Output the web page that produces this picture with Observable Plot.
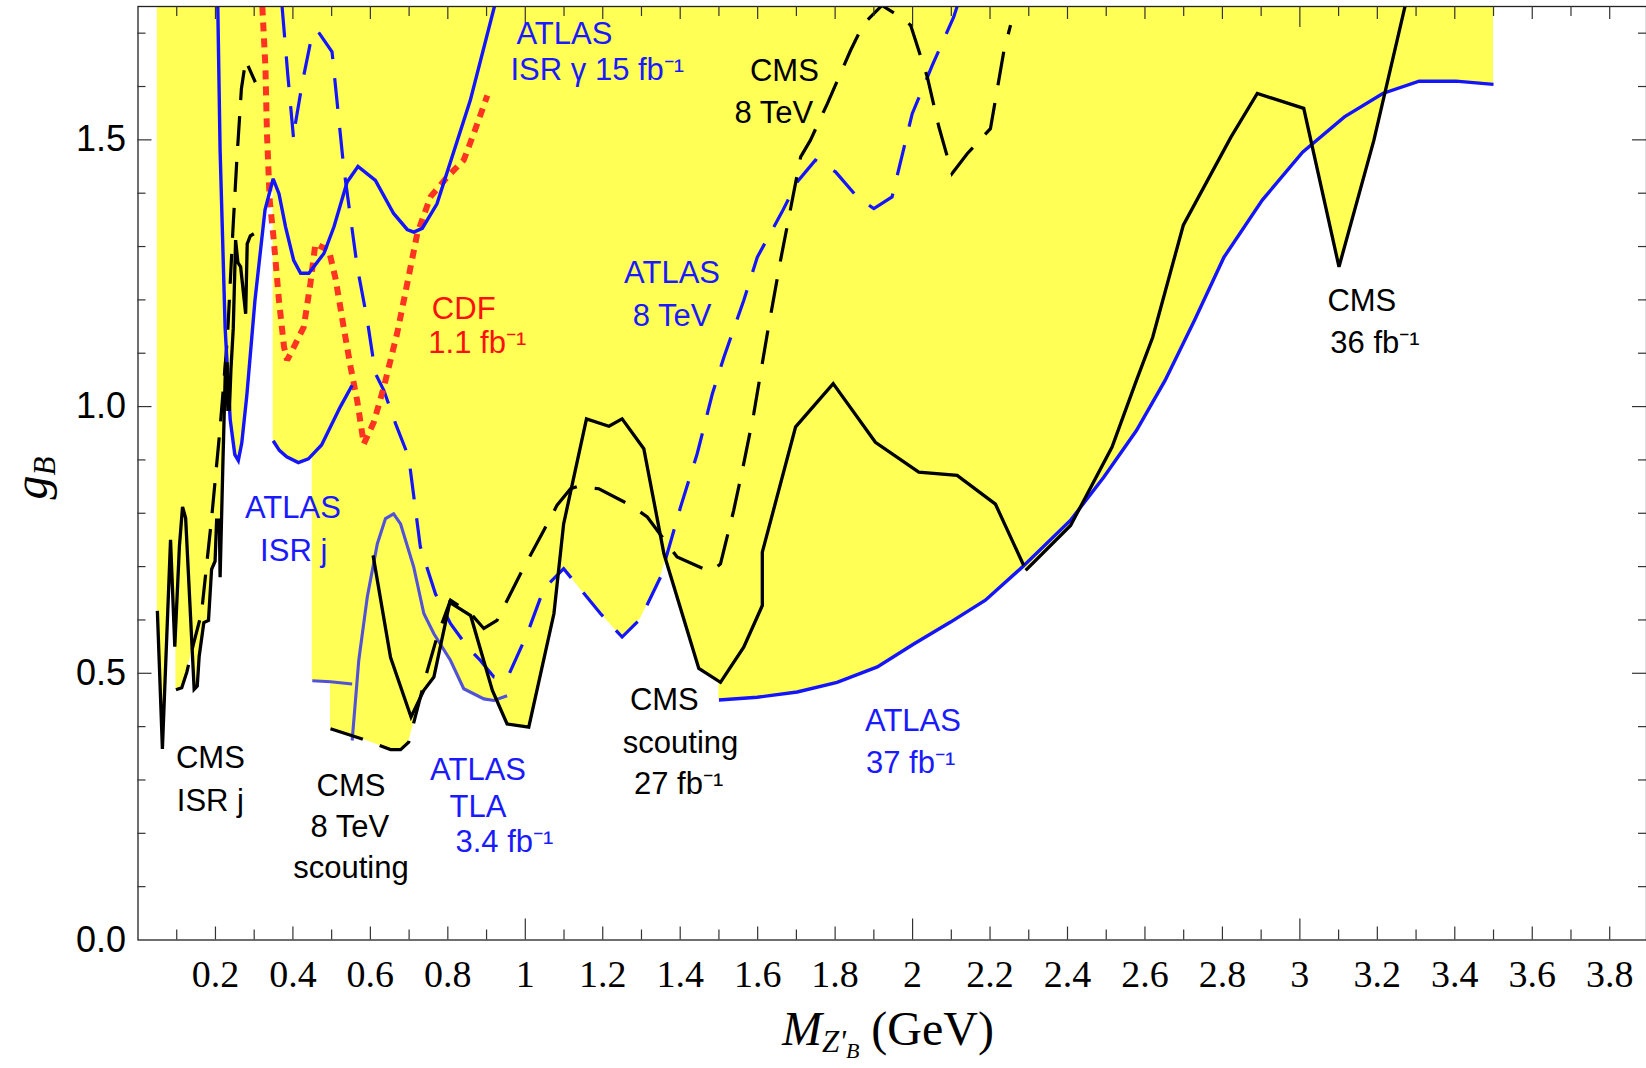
<!DOCTYPE html>
<html>
<head>
<meta charset="utf-8">
<script src="https://cdn.jsdelivr.net/npm/d3@7"></script>
<script src="https://cdn.jsdelivr.net/npm/@observablehq/plot@0.6"></script>
<style>
  html, body { margin: 0; padding: 0; background: #fff; }
  #chart svg { display: block; }
</style>
</head>
<body>
<div id="chart"></div>
<script>
// ---------------- data ----------------
// Yellow excluded region: lower boundary (upper boundary is the top of the plot)
const yellowX = [0.050,0.063,0.084,0.095,0.098,0.098,0.113,0.126,0.140,0.145,0.153,0.158,0.170,0.182,0.190,0.199,0.203,0.210,0.212,0.215,0.219,0.226,0.230,0.232,0.236,0.238,0.250,0.259,0.268,0.281,0.302,0.328,0.349,0.349,0.365,0.384,0.414,0.440,0.450,0.450,0.497,0.497,0.579,0.652,0.678,0.699,0.728,0.738,0.764,0.782,0.807,0.841,0.893,0.919,0.925,0.953,1.009,1.074,1.085,1.099,1.194,1.250,1.297,1.349,1.362,1.448,1.500,1.500,1.599,1.702,1.805,1.909,2.003,2.098,2.188,2.283,2.292,2.408,2.431,2.494,2.578,2.652,2.728,2.804,2.903,3.007,3.031,3.101,3.191,3.220,3.308,3.403,3.500];
const yellowY = [0.617,0.358,0.750,0.550,0.600,0.469,0.473,0.502,0.544,0.470,0.476,0.532,0.595,0.599,0.695,0.710,0.787,0.787,0.680,0.790,0.887,1.080,1.080,0.995,0.995,0.976,0.910,0.899,0.932,1.021,1.199,1.369,1.427,0.936,0.918,0.906,0.895,0.902,0.910,0.486,0.484,0.396,0.377,0.357,0.357,0.371,0.452,0.468,0.493,0.553,0.524,0.471,0.452,0.449,0.451,0.405,0.399,0.612,0.686,0.696,0.612,0.568,0.602,0.680,0.713,0.509,0.485,0.450,0.455,0.465,0.483,0.512,0.555,0.596,0.637,0.699,0.693,0.777,0.809,0.868,0.955,1.049,1.162,1.280,1.387,1.477,1.492,1.262,1.499,1.589,1.610,1.610,1.604];

// CMS ISR j (solid black, jagged)
const cmsIsrJX = [0.050,0.063,0.084,0.095,0.107,0.115,0.123,0.145,0.153,0.158,0.170,0.182,0.190,0.199,0.203,0.210,0.212,0.219,0.226,0.230,0.232,0.236,0.240,0.246,0.252,0.258,0.265,0.278,0.282,0.290,0.299];
const cmsIsrJY = [0.617,0.358,0.750,0.550,0.739,0.812,0.791,0.470,0.476,0.532,0.595,0.599,0.695,0.710,0.787,0.787,0.680,0.887,1.080,1.080,0.995,0.995,1.070,1.147,1.312,1.270,1.262,1.174,1.305,1.320,1.324];
// CMS ISR j (dashed black)
const cmsIsrJDashX = [0.098,0.113,0.126,0.143,0.164,0.190,0.212,0.231,0.245,0.255,0.267,0.278,0.303];
const cmsIsrJDashY = [0.469,0.473,0.502,0.554,0.613,0.790,0.960,1.130,1.330,1.460,1.596,1.649,1.608];
// ATLAS ISR gamma 15 fb-1 (solid blue)
const atlasIsrGammaX = [0.206,0.212,0.225,0.238,0.250,0.259,0.268,0.281,0.302,0.328,0.349,0.364,0.381,0.402,0.420,0.441,0.480,0.506,0.540,0.568,0.613,0.660,0.695,0.712,0.734,0.772,0.858,0.921];
const atlasIsrGammaY = [1.750,1.480,1.147,0.976,0.910,0.899,0.932,1.021,1.199,1.369,1.427,1.399,1.337,1.274,1.250,1.250,1.287,1.337,1.421,1.450,1.424,1.362,1.332,1.327,1.334,1.380,1.574,1.752];
// ATLAS ISR j (solid blue)
const atlasIsrJX = [0.349,0.365,0.384,0.414,0.440,0.474,0.522,0.553];
const atlasIsrJY = [0.936,0.918,0.906,0.895,0.902,0.928,0.999,1.040];
// lower ISR j segment (light blue)
const atlasIsrJLowX = [0.450,0.497,0.553];
const atlasIsrJLowY = [0.486,0.484,0.480];
// ATLAS TLA 3.4 fb-1 (light blue)
const atlasTlaX = [0.553,0.570,0.592,0.618,0.639,0.660,0.678,0.712,0.738,0.764,0.807,0.841,0.893,0.919,0.953];
const atlasTlaY = [0.374,0.524,0.643,0.743,0.790,0.799,0.780,0.699,0.612,0.574,0.524,0.471,0.452,0.449,0.458];
// CDF 1.1 fb-1 (red dotted)
const cdfX = [0.321,0.329,0.333,0.340,0.349,0.364,0.377,0.385,0.398,0.428,0.445,0.458,0.493,0.510,0.531,0.549,0.566,0.583,0.609,0.635,0.669,0.695,0.721,0.755,0.798,0.841,0.867,0.902];
const cdfY = [1.750,1.637,1.512,1.387,1.324,1.199,1.112,1.087,1.105,1.149,1.230,1.305,1.293,1.240,1.149,1.074,1.011,0.930,0.971,1.037,1.137,1.230,1.324,1.393,1.430,1.462,1.512,1.583];
// ATLAS 8 TeV (dashed blue)
const atlas8X = [0.372,0.387,0.402,0.404,0.425,0.450,0.463,0.501,0.510,0.531,0.566,0.592,0.613,0.635,0.665,0.699,0.729,0.768,0.807,0.850,0.884,0.919,0.953,1.005,1.048,1.099,1.194,1.250,1.297,1.349,1.401,1.444,1.483,1.513,1.564,1.599,1.663,1.702,1.749,1.801,1.857,1.900,1.947,1.999,2.051,2.106,2.115];
const atlas8Y = [1.750,1.620,1.500,1.520,1.610,1.699,1.705,1.665,1.600,1.449,1.262,1.162,1.062,1.030,0.968,0.905,0.737,0.649,0.593,0.550,0.524,0.493,0.490,0.574,0.659,0.696,0.612,0.568,0.602,0.680,0.812,0.912,1.024,1.093,1.199,1.280,1.365,1.421,1.462,1.440,1.393,1.371,1.393,1.549,1.640,1.730,1.750];
// CMS 8 TeV (+ 8 TeV scouting) (dashed black)
const cms8X = [0.497,0.579,0.652,0.678,0.699,0.747,0.772,0.807,0.859,0.893,0.927,0.988,1.048,1.082,1.117,1.134,1.190,1.272,1.315,1.366,1.392,1.478,1.504,1.538,1.564,1.590,1.625,1.659,1.711,1.736,1.780,1.840,1.874,1.921,1.960,1.995,2.038,2.068,2.102,2.141,2.201,2.236,2.253];
const cms8Y = [0.396,0.377,0.357,0.357,0.371,0.505,0.568,0.637,0.612,0.584,0.599,0.687,0.768,0.815,0.846,0.850,0.846,0.815,0.793,0.743,0.718,0.690,0.705,0.805,0.893,0.987,1.137,1.274,1.468,1.499,1.568,1.668,1.718,1.752,1.734,1.715,1.618,1.524,1.437,1.474,1.521,1.668,1.715];
// CMS scouting 27 fb-1 (solid black)
const cmsScoutX = [0.607,0.652,0.705,0.738,0.764,0.805,0.859,0.915,0.953,1.009,1.074,1.099,1.158,1.216,1.250,1.306,1.358,1.448,1.504,1.564,1.612,1.612,1.698,1.795,1.904,2.016,2.115,2.214,2.287];
const cmsScoutY = [0.721,0.530,0.418,0.468,0.493,0.633,0.608,0.468,0.405,0.399,0.612,0.780,0.977,0.963,0.977,0.921,0.724,0.509,0.483,0.549,0.627,0.727,0.962,1.043,0.933,0.877,0.871,0.817,0.702];
// CMS 36 fb-1 (solid black)
const cms36X = [2.292,2.408,2.515,2.578,2.620,2.699,2.822,2.890,3.010,3.101,3.191,3.272];
const cms36Y = [0.693,0.777,0.924,1.049,1.130,1.340,1.505,1.587,1.559,1.262,1.499,1.752];
// ATLAS 37 fb-1 (solid blue)
const atlas37X = [1.500,1.599,1.702,1.805,1.909,2.003,2.098,2.188,2.283,2.408,2.494,2.578,2.652,2.728,2.804,2.903,3.007,3.115,3.214,3.308,3.403,3.500];
const atlas37Y = [0.450,0.455,0.465,0.483,0.512,0.555,0.596,0.637,0.699,0.787,0.868,0.955,1.049,1.162,1.280,1.387,1.477,1.543,1.587,1.610,1.610,1.604];

// Tick labels
const xTickLabels = [0.2,0.4,0.6,0.8,1,1.2,1.4,1.6,1.8,2,2.2,2.4,2.6,2.8,3,3.2,3.4,3.6,3.8];
const yTickLabels = [0, 0.5, 1, 1.5];

// Curve annotations (data coordinates of each text line's centre)
const labelText  = ["ATLAS","ISR γ 15 fb⁻¹","CMS","8 TeV","CDF","1.1 fb⁻¹","ATLAS","8 TeV","CMS","36 fb⁻¹","ATLAS","ISR j","CMS","ISR j","CMS","8 TeV","scouting","ATLAS","TLA","3.4 fb⁻¹","CMS","scouting","27 fb⁻¹","ATLAS","37 fb⁻¹"];
const labelX     = [1.101,1.186,1.669,1.642,0.841,0.876,1.379,1.379,3.160,3.194,0.400,0.402,0.187,0.187,0.550,0.547,0.550,0.878,0.878,0.946,1.359,1.401,1.396,2.001,1.995];
const labelY     = [1.699,1.630,1.629,1.550,1.182,1.119,1.250,1.169,1.197,1.119,0.810,0.730,0.341,0.260,0.289,0.211,0.135,0.319,0.250,0.183,0.450,0.369,0.293,0.410,0.332];
const labelGroup = ["b","b","k","k","r","r","b","b","k","k","b","b","k","k","k","k","k","b","b","b","k","k","k","b","b"];

// ---------------- layout & styles ----------------
const W = 1646, H = 1068;
const ML = 137.5, MR = 0, MT = 6, MB = 128.5;
const plotW = W - ML - MR, plotH = H - MT - MB;
const X_DOMAIN = [0, 3.895];
const Y_TOP = 1.75;

const BLUE = "#1414ff", BLACK = "#000000", RED = "#ff3322", LIGHTBLUE = "#5252d8";
const groupColor = {b: "#1a1aff", k: "#000000", r: "#ff1010"};

const rows = (xs, ys) => xs.map((x, i) => ({x, y: ys[i]}));

const solid = (stroke, w) => ({stroke, strokeWidth: w, strokeLinejoin: "miter", strokeMiterlimit: 3, strokeLinecap: "butt"});
const dashed = (stroke, dash) => ({stroke, strokeWidth: 3.2, strokeDasharray: dash, strokeLinejoin: "miter", strokeMiterlimit: 3, strokeLinecap: "butt"});

const lineSpecs = [
  [atlasTlaX, atlasTlaY, solid(LIGHTBLUE, 3.1)],
  [atlasIsrJLowX, atlasIsrJLowY, solid(LIGHTBLUE, 3.1)],
  [atlas8X, atlas8Y, dashed(BLUE, "31,19")],
  [cms8X, cms8Y, dashed(BLACK, "34,18")],
  [cmsIsrJDashX, cmsIsrJDashY, dashed(BLACK, "30,16")],
  [cdfX, cdfY, {stroke: RED, strokeWidth: 6, strokeDasharray: "9,7", strokeLinecap: "butt", strokeLinejoin: "miter"}],
  [atlasIsrGammaX, atlasIsrGammaY, solid(BLUE, 3.4)],
  [atlasIsrJX, atlasIsrJY, solid(BLUE, 3.4)],
  [atlas37X, atlas37Y, solid(BLUE, 3.4)],
  [cmsIsrJX, cmsIsrJY, solid(BLACK, 3.3)],
  [cmsScoutX, cmsScoutY, solid(BLACK, 3.3)],
  [cms36X, cms36Y, solid(BLACK, 3.3)]
];

// frame tick positions
const xTenths = d3.range(1, 39).map(i => i / 10);
const xOdd = xTenths.filter(v => Math.round(v * 10) % 2 === 1);
const xEven = xTenths.filter(v => Math.round(v * 10) % 2 === 0 && Math.round(v * 10) % 10 !== 0);
const xInt = [1, 2, 3];
const yMinor = d3.range(1, 18).map(i => i / 10).filter(v => Math.round(v * 10) % 5 !== 0);
const yMajor = [0.5, 1, 1.5];
const tickStyle = {stroke: "#333", strokeWidth: 1.2};

const tickMarks = [];
for (const [vals, L] of [[xOdd, 10], [xEven, 13], [xInt, 21]]) {
  tickMarks.push(Plot.tickX(vals, {x: d => d, insetTop: plotH - L, ...tickStyle}));
  tickMarks.push(Plot.tickX(vals, {x: d => d, insetBottom: plotH - L, ...tickStyle}));
}
for (const [vals, L] of [[yMinor, 8], [yMajor, 14]]) {
  tickMarks.push(Plot.tickY(vals, {y: d => d, insetRight: plotW - L, ...tickStyle}));
  tickMarks.push(Plot.tickY(vals, {y: d => d, insetLeft: plotW - L, ...tickStyle}));
}

const labels = labelText.map((t, i) => ({text: t, x: labelX[i], y: labelY[i], color: groupColor[labelGroup[i]]}));

const svg = Plot.plot({
  width: W, height: H,
  marginLeft: ML, marginRight: MR, marginTop: MT, marginBottom: MB,
  x: {domain: X_DOMAIN},
  y: {domain: [0, Y_TOP]},
  color: {type: "identity"},
  style: {background: "#fff", fontFamily: "'Liberation Sans', Arial, sans-serif"},
  marks: [
    Plot.areaY(rows(yellowX, yellowY), {x: "x", y1: "y", y2: () => Y_TOP, fill: "#ffff55", clip: true}),
    ...lineSpecs.map(([xs, ys, st]) => Plot.line(rows(xs, ys), {x: "x", y: "y", clip: true, ...st})),
    Plot.frame({stroke: "#222", strokeWidth: 1.3}),
    ...tickMarks,
    Plot.axisX({ticks: xTickLabels, tickSize: 0, tickPadding: 20, label: null,
      tickFormat: d => Number.isInteger(d) ? String(d) : d.toFixed(1),
      fontSize: 38, fontFamily: "'Liberation Serif', 'Times New Roman', serif", fill: "#000"}),
    Plot.axisY({ticks: yTickLabels, tickSize: 0, tickPadding: 12, label: null,
      tickFormat: d3.format(".1f"), fontSize: 36, fontFamily: "'Liberation Sans', Arial, sans-serif", fill: "#000"}),
    Plot.text(labels, {x: "x", y: "y", text: "text", fill: "color", fontSize: 31,
      fontFamily: "'Liberation Sans', Arial, sans-serif"})
  ]
});

// Axis titles with sub/subscripts
const s = d3.select(svg);
const xt = s.append("text")
  .attr("x", 888).attr("y", 1045)
  .attr("text-anchor", "middle")
  .attr("font-family", "'Liberation Serif', 'Times New Roman', serif")
  .attr("fill", "#000");
xt.append("tspan").attr("font-size", 48).attr("font-style", "italic").text("M");
xt.append("tspan").attr("font-size", 31).attr("font-style", "italic").attr("dy", 7).text("Z'");
xt.append("tspan").attr("font-size", 22).attr("font-style", "italic").attr("dy", 6).text("B");
xt.append("tspan").attr("font-size", 48).attr("dy", -13).text(" (GeV)");

const yt = s.append("text")
  .attr("transform", "translate(47,478) rotate(-90)")
  .attr("text-anchor", "middle")
  .attr("font-family", "'Liberation Serif', 'Times New Roman', serif")
  .attr("fill", "#000");
yt.append("tspan").attr("font-size", 48).attr("font-style", "italic").text("g");
yt.append("tspan").attr("font-size", 31).attr("font-style", "italic").attr("dy", 8).text("B");

document.getElementById("chart").appendChild(svg);
</script>
</body>
</html>
